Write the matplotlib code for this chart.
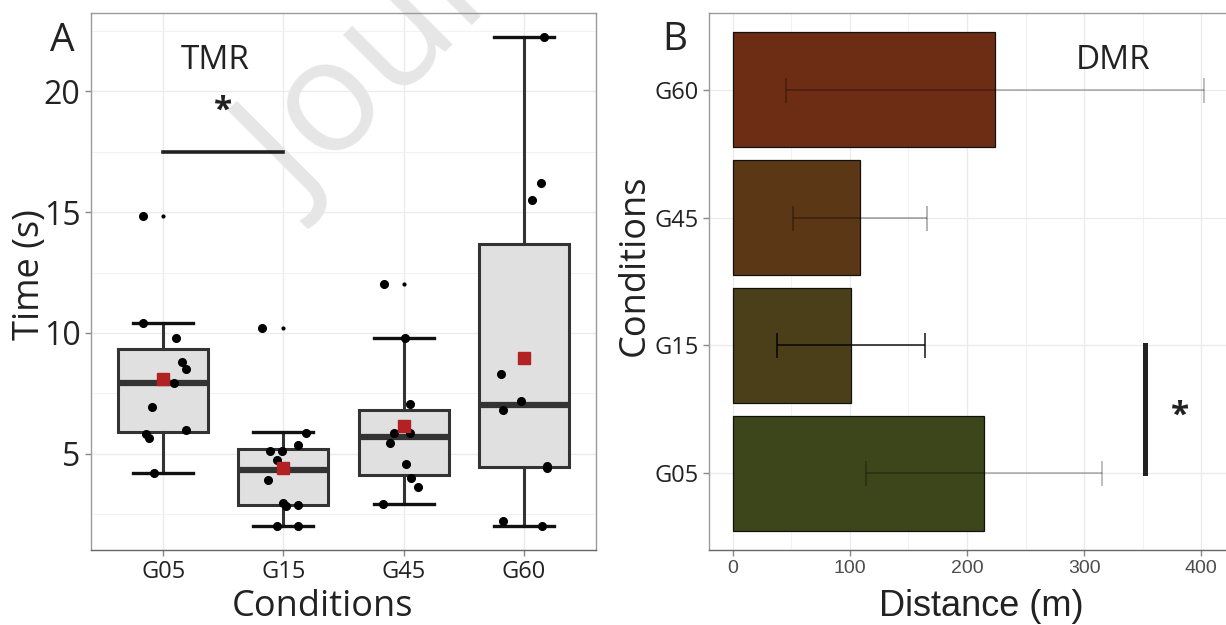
import matplotlib
matplotlib.use("Agg")
import matplotlib.pyplot as plt
import numpy as np

plt.rcParams['font.family'] = ['Open Sans', 'DejaVu Sans']

# -------------------------
# Panel A data (TMR, time in s)
# -------------------------
groups = ["G05", "G15", "G45", "G60"]
whis_lo = [4.20, 2.02, 2.90, 2.02]
q1 = [5.90, 2.87, 4.13, 4.44]
med = [7.91, 4.32, 5.69, 7.02]
q3 = [9.34, 5.18, 6.80, 13.70]
whis_hi = [10.41, 5.90, 9.80, 22.24]
means = [8.09, 4.42, 6.15, 8.96]
outliers = [[14.85], [10.21], [12.02], []]

# individual points (jittered in the original), values and offsets
pts_G05 = [14.85, 10.41, 9.80, 8.78, 8.49, 7.91, 6.93, 5.97, 5.80, 5.65, 4.20]
jit_G05 = [-0.17, -0.17, 0.11, 0.16, 0.19, 0.09, -0.09, 0.19, -0.14, -0.12, -0.08]
pts_G15 = [10.21, 5.87, 5.34, 5.09, 5.09, 4.72, 3.92, 2.95, 2.84, 2.87, 2.02, 2.02]
jit_G15 = [-0.18, 0.19, 0.12, -0.11, -0.01, -0.05, -0.13, 0.0, 0.02, 0.12, -0.05, 0.12]
pts_G45 = [12.02, 9.77, 7.05, 5.87, 5.87, 5.46, 4.59, 3.98, 3.60, 2.90]
jit_G45 = [-0.16, 0.01, 0.05, -0.08, 0.05, -0.11, 0.02, 0.06, 0.12, -0.17]
pts_G60 = [22.24, 16.23, 15.52, 8.29, 7.17, 6.79, 4.50, 4.39, 2.22, 2.02]
jit_G60 = [0.17, 0.14, 0.07, -0.19, -0.02, -0.17, 0.19, 0.19, -0.17, 0.15]
points = [pts_G05, pts_G15, pts_G45, pts_G60]
jitter = [jit_G05, jit_G15, jit_G45, jit_G60]

# -------------------------
# Panel B data (DMR, distance in m)
# -------------------------
dist_mean = [214.8, 100.9, 108.7, 224.3]
dist_sd = [100.8, 63.0, 57.0, 178.3]
bar_colors = ["#3D461B", "#4B3F1A", "#5C3716", "#6C2D14"]
err_alpha = [0.3, 0.85, 0.35, 0.3]

fig = plt.figure(figsize=(12.26, 6.25), dpi=100)
W, H = 1226, 625
axA = fig.add_axes([91 / W, 75 / H, 505 / W, 537 / H])
axB = fig.add_axes([709 / W, 75 / H, 519 / W, 537 / H])

grid_c = "#EBEBEB"
for ax in (axA, axB):
    for s in ax.spines.values():
        s.set_color("#9A9A9A")
        s.set_linewidth(1.0)
    ax.spines["bottom"].set_color("#666666")
    ax.tick_params(length=4, width=1, color="#888888")
    ax.set_axisbelow(True)

# ---- Panel A ----
pos = np.arange(1, len(groups) + 1)
stats = []
for i in range(len(groups)):
    stats.append(dict(whislo=whis_lo[i], q1=q1[i], med=med[i], q3=q3[i],
                      whishi=whis_hi[i], fliers=outliers[i]))
axA.bxp(stats, positions=pos, widths=0.75, patch_artist=True, showfliers=True,
        boxprops=dict(facecolor="#E0E0E0", edgecolor="#333333", linewidth=2.2),
        medianprops=dict(color="#333333", linewidth=4.5, solid_capstyle="butt"),
        whiskerprops=dict(color="#333333", linewidth=2.2),
        capprops=dict(color="#111111", linewidth=2.4),
        capwidths=0.5,
        flierprops=dict(marker="o", markersize=2, markerfacecolor="black",
                        markeredgecolor="black"), zorder=2)

for i in range(len(groups)):
    axA.plot(pos[i] + np.array(jitter[i]), points[i], "o", color="black",
             markersize=5.5, zorder=4)
axA.plot(pos, means, "s", color="#B22222", markersize=8.5, zorder=5)

lo, hi = min(whis_lo), max(whis_hi)
pad = (hi - lo) * 0.05
axA.set_ylim(lo - pad, hi + pad)
axA.set_xlim(0.4, 4.6)
axA.set_yticks([5, 10, 15, 20])
axA.set_yticks([2.5, 7.5, 12.5, 17.5, 22.5], minor=True)
axA.tick_params(axis="y", which="minor", length=0)
axA.set_xticks(pos)
axA.set_xticklabels(groups, fontsize=17, color="#222222")
axA.tick_params(axis="y", labelsize=23, labelcolor="#222222")
axA.grid(True, which="major", color=grid_c, linewidth=1.0)
axA.grid(True, which="minor", axis="y", color="#F2F2F2", linewidth=0.8)

axA.plot([1, 2], [17.5, 17.5], color="#222222", linewidth=2.6, zorder=3)
axA.text(1.5, 19.2, "*", fontsize=24, fontweight="bold", ha="center", va="center",
         color="#222222")
axA.text(1.43, 21.3, "TMR", fontsize=24, ha="center", va="center", color="#222222")

axA.set_ylabel("Time (s)", fontsize=26, color="#222222", va="center")
axA.yaxis.set_label_coords(-0.121, 0.512)
axA.set_xlabel("Conditions", fontsize=26, color="#222222", va="center")
axA.xaxis.set_label_coords(0.459, -0.106)

# journal watermark, behind the marks
axA.text(272 / W, 1 - 180 / H, "Journal Pre-proof", transform=fig.transFigure,
         fontsize=114, color="#E6E6E6", rotation=45, rotation_mode="anchor",
         ha="left", va="center", zorder=1, clip_on=False)

# ---- Panel B ----
ypos = np.arange(1, len(groups) + 1)
axB.barh(ypos, dist_mean, height=0.9, color=bar_colors, edgecolor="#111111",
         linewidth=0.9, zorder=2)
for i in range(len(groups)):
    axB.errorbar(dist_mean[i], ypos[i], xerr=dist_sd[i], fmt="none",
                 ecolor="black", alpha=err_alpha[i], elinewidth=1.2,
                 capsize=9, capthick=1.2, zorder=3)

xmin = min(0, min(np.array(dist_mean) - np.array(dist_sd)))
xmax = max(np.array(dist_mean) + np.array(dist_sd))
xpad = (xmax - xmin) * 0.05
axB.set_xlim(xmin - xpad, xmax + xpad)
axB.set_ylim(0.4, 4.6)
axB.set_xticks([0, 100, 200, 300, 400])
axB.set_xticks([50, 150, 250, 350], minor=True)
axB.tick_params(axis="x", which="minor", length=0)
axB.set_yticks(ypos)
axB.set_yticklabels(groups, fontsize=17, color="#222222")
for lab in axB.get_xticklabels():
    lab.set_family(["Liberation Sans", "DejaVu Sans"])
axB.tick_params(axis="x", labelsize=14, labelcolor="#4D4D4D")
axB.grid(True, which="major", color=grid_c, linewidth=1.0)
axB.grid(True, which="minor", axis="x", color="#F2F2F2", linewidth=0.8)

axB.plot([352, 352], [1, 2], color="#222222", linewidth=3.6, zorder=3)
axB.text(382, 1.45, "*", fontsize=24, fontweight="bold", ha="center", va="center",
         color="#222222")
axB.text(325, 4.23, "DMR", fontsize=24, ha="center", va="center", color="#222222")

axB.set_ylabel("Conditions", fontsize=26, color="#222222", va="center")
axB.yaxis.set_label_coords(-0.143, 0.531)
axB.set_xlabel("Distance (m)", fontsize=26, color="#222222", va="center",
               family=["Liberation Sans", "DejaVu Sans"])
axB.xaxis.set_label_coords(0.524, -0.106)

# panel letters
fig.text(62 / W, 1 - 41 / H, "A", fontsize=28, ha="center", va="center", color="#222222")
fig.text(675 / W, 1 - 40 / H, "B", fontsize=28, ha="center", va="center", color="#222222")

fig.savefig("out.png", dpi=100)
